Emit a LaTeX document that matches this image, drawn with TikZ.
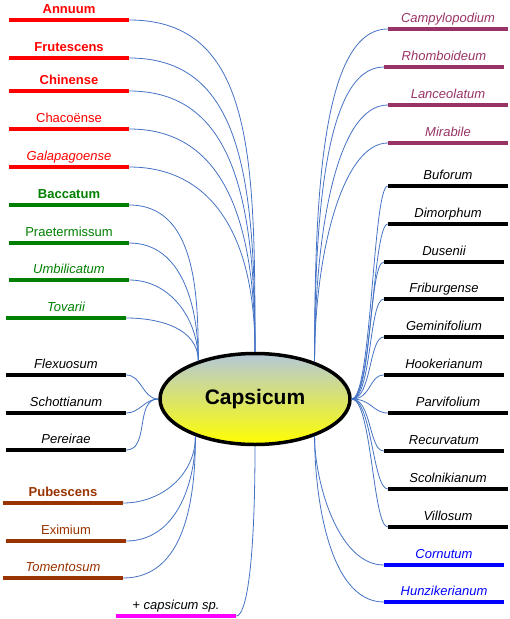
\documentclass[tikz,border=0pt]{standalone}
\usepackage{fontspec}
\setmainfont{Liberation Sans}
\usepackage{tikz}
\usetikzlibrary{shapes.geometric}

\definecolor{capred}{HTML}{FF0000}
\definecolor{capgreen}{HTML}{008000}
\definecolor{capbrown}{HTML}{993300}
\definecolor{cappurple}{HTML}{993366}
\definecolor{capblue}{HTML}{0000FF}
\definecolor{capmagenta}{HTML}{FF00FF}
\definecolor{linkblue}{HTML}{4472C4}
\definecolor{captop}{HTML}{B4C8D8}
\definecolor{capyellow}{HTML}{FFFF00}
\newcommand{\leaffont}{\fontsize{13}{15}\selectfont}

\begin{document}
\begin{tikzpicture}[x=1pt, y=-1pt, label distance=4.5pt]
        \tikzstyle{branch} = [rectangle, inner sep=0pt, minimum width=120pt, minimum height=4pt]
        \tikzstyle{every label} = [inner sep=0pt, text depth=0pt]
        \tikzstyle{link} = [draw=linkblue, line width=0.8pt]
        \useasboundingbox (0,0) rectangle (510,619);

        \node[ellipse, draw, line width=3.5pt, inner sep=0pt, minimum width=190pt, minimum height=91pt,
              top color=captop, bottom color=capyellow, font=\fontsize{21}{25}\selectfont\bfseries] (cap) at (255,399) {Capsicum};

        % left side
        \foreach \n/\x/\y/\col/\fnt/\txt in {annuum/69/20/capred/\bfseries/Annuum,
            frutescens/69/58/capred/\bfseries/Frutescens,
            chinense/69/91/capred/\bfseries/Chinense,
            chacoense/69/129/capred/\mdseries/Chacoënse,
            galapagoense/69/167/capred/\itshape/Galapagoense,
            baccatum/69/205/capgreen/\bfseries/Baccatum,
            praetermissum/69/243/capgreen/\mdseries/Praetermissum,
            umbilicatum/69/280/capgreen/\itshape/Umbilicatum,
            tovarii/66/318/capgreen/\itshape/Tovarii,
            flexuosum/66/375/black/\itshape/Flexuosum,
            schottianum/66/413/black/\itshape/Schottianum,
            pereirae/66/450/black/\itshape/Pereirae,
            pubescens/63/503/capbrown/\bfseries/Pubescens,
            eximium/66/541/capbrown/\mdseries/Eximium,
            tomentosum/63/578/capbrown/\itshape/Tomentosum}
            \node[branch, fill=\col, label={[text=\col, font=\leaffont\fnt]above:\txt}] (\n) at (\x,\y) {};
        \node[branch, fill=capmagenta, label={[font=\leaffont\itshape]above:+ capsicum sp.}] (sp) at (176,616) {};

        % right side
        \foreach \n/\x/\y/\col/\txt in {campylopodium/448/29/cappurple/Campylopodium,
            rhomboideum/444/67/cappurple/Rhomboideum,
            lanceolatum/448/105/cappurple/Lanceolatum,
            mirabile/448/143/cappurple/Mirabile,
            buforum/448/186/black/Buforum,
            dimorphum/448/224/black/Dimorphum,
            dusenii/444/262/black/Dusenii,
            friburgense/444/299/black/Friburgense,
            geminifolium/444/337/black/Geminifolium,
            hookerianum/444/375/black/Hookerianum,
            parvifolium/448/413/black/Parvifolium,
            recurvatum/444/451/black/Recurvatum,
            scolnikianum/448/489/black/Scolnikianum,
            villosum/448/527/black/Villosum,
            cornutum/444/565/capblue/Cornutum,
            hunzikerianum/444/602/capblue/Hunzikerianum}
            \node[branch, fill=\col, label={[text=\col, font=\leaffont\itshape]above:\txt}] (\n) at (\x,\y) {};

        % links
        \foreach \n in {annuum,frutescens,chinense,chacoense,galapagoense}
            \draw[link] (\n.east) to[out=0, in=90, out looseness=0.9, in looseness=1.4] (cap.north);
        \foreach \n in {baccatum,praetermissum,umbilicatum,tovarii}
            \draw[link] (\n.east) to[out=0, in=90] (cap.146);
        \foreach \n in {flexuosum,schottianum,pereirae}
            \draw[link] (\n.east) to[out=0, in=180] (cap.west);
        \foreach \n in {pubescens,eximium,tomentosum}
            \draw[link] (\n.east) to[out=0, in=-90] (cap.212);
        \draw[link] (sp.east) to[out=0, in=-90, out looseness=0.15, in looseness=1.8] (cap.south);
        \foreach \n in {campylopodium,rhomboideum,lanceolatum,mirabile}
            \draw[link] (\n.west) to[out=180, in=90, out looseness=0.5, in looseness=1.2] (cap.32);
        \foreach \n in {buforum,dimorphum,dusenii,friburgense,geminifolium,hookerianum,parvifolium,recurvatum,scolnikianum,villosum}
            \draw[link] (\n.west) to[out=180, in=0, out distance=15pt, in distance=20pt] (cap.east);
        \foreach \n in {cornutum,hunzikerianum}
            \draw[link] (\n.west) to[out=180, in=-90, looseness=0.8] (cap.328);
\end{tikzpicture}
\end{document}
